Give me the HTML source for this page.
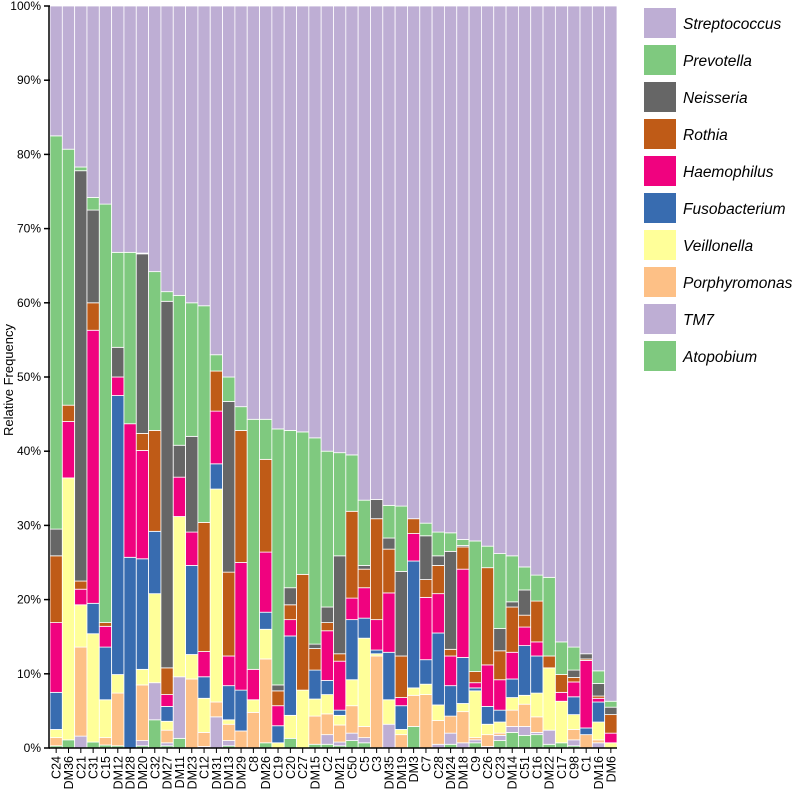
<!DOCTYPE html>
<html><head><meta charset="utf-8"><style>
body{margin:0;background:#fff;}
svg{font-family:"Liberation Sans",Arial,sans-serif;display:block}
</style></head><body>
<svg id="chart" width="800" height="791"></svg>
<script>
const categories=["C24","DM36","C21","C31","C15","DM12","DM28","DM20","C32","DM27","DM11","DM23","C12","DM31","DM13","DM29","C8","DM26","C19","C20","C27","DM15","C2","DM21","C50","C5","C3","DM35","DM19","DM3","C7","C28","DM24","DM18","C9","C26","C23","DM14","C51","C16","DM22","C17","C98","C1","DM16","DM6"];
const atopobium=[.3,1.1,0,.8,.4,.3,0,.3,3.8,.3,1.3,0,0,0,.3,0,0,.7,0,1.3,0,.5,.5,.3,1,.7,0,0,0,2.9,0,0,.5,0,.7,0,1,2.1,1.7,1.8,.5,.7,.3,0,0,0];
const tm7=[0,0,1.6,0,0,0,0,.7,5,.4,8.3,0,.2,4.2,.7,0,0,0,0,0,0,0,1.3,.5,1,.7,0,3.2,0,0,0,.5,1.5,.7,.4,.2,.7,.8,1.2,.3,1.9,0,.8,0,.7,0];
const porphyromonas=[1.1,0,12,0,1,7.1,0,7.5,0,1.7,0,9.3,1.9,2,2.2,2.3,4.8,11.3,0,0,0,3.8,2.8,2.3,3.7,1.5,12.4,0,1.8,4.2,7.2,3.2,2.3,4.2,.3,1.6,.3,2.2,3,2.1,0,0,1.4,1.8,.4,0];
const veillonella=[1.1,35.3,5.7,14.6,5.1,2.5,0,2.1,12,1.2,21.6,3.3,4.6,28.7,.6,0,1.7,4,.7,3.1,7.8,2.3,2.6,1.3,3.5,11.9,.3,3.3,.7,1,1.4,2.1,0,1.1,6.3,1.4,1.5,1.7,1.2,3.2,8.4,5.6,2,0,2.4,.7];
const fusobacterium=[5,0,0,4.1,7.1,37.6,25.7,14.9,8.4,2,0,12,2.9,3.4,4.6,5.5,0,2.3,2.3,10.7,0,3.9,1.9,.7,8.1,2.7,.5,6.4,3.2,17.1,3.3,9.7,4.1,6.2,.4,2.4,1.6,2.5,6.7,5,0,0,2.4,.9,2.7,0];
const haemophilus=[9.4,7.6,2.1,36.8,2.8,2.5,18,14.6,0,1.6,5.3,4.5,3.4,7.1,4,17.2,4.1,8.1,2.7,2.2,0,0,6.7,6.6,2.9,4.1,4.1,8,1.1,3.7,8.4,5.3,4,11.9,.7,5.6,4.1,3.6,2.5,1.9,0,1.2,2,9.1,.5,1.3];
const rothia=[9,2.2,1.1,3.7,.5,0,0,2.3,13.6,3.6,0,0,17.4,5.4,11.3,17.8,0,12.5,2,2,15.6,2.9,1.1,1,11.7,2.5,13.6,5.9,5.6,2,2.4,3.8,.9,3,1.5,13.1,3.9,6.1,1.6,5.5,1.6,2.4,.6,.2,.3,2.5];
const neisseria=[3.6,0,55.3,12.5,0,4,0,24.2,0,49.4,4.3,12.9,0,0,23,0,0,0,.8,2.3,0,.6,2.1,13.2,0,.5,2.6,1.5,11.4,0,5.9,1.3,13.2,.2,0,0,3,.7,3.4,0,0,0,1,.7,1.7,1];
const prevotella=[53,34.5,.5,1.7,56.4,12.8,23.1,.1,21.4,1.3,20.2,18,29.2,2.2,3.3,3.2,33.7,5.4,34.5,21.2,19.2,27.8,21,13.9,7.6,8.8,0,4.4,8.8,0,1.7,3.2,2.5,.8,17.6,2.9,10.1,6.2,3.1,3.5,10.6,4.4,3.1,0,1.7,.8];
const seriesNames=["Atopobium","TM7","Porphyromonas","Veillonella","Fusobacterium","Haemophilus","Rothia","Neisseria","Prevotella","Streptococcus"];
const seriesColors=["#7fc97f","#beaed4","#fdc086","#ffff99","#386cb0","#f0027f","#bf5b17","#666666","#7fc97f","#beaed4"];
const yTicks=[0,10,20,30,40,50,60,70,80,90,100];

const NS="http://www.w3.org/2000/svg";
const svg=document.getElementById('chart');
const X0=50,X1=617,Y0=748,Y1=6;
const bw=(X1-X0)/categories.length;
const xPos=i=>X0+i*bw;
const yPos=v=>Y0-(v/100)*(Y0-Y1);
function mk(t,a,p){const e=document.createElementNS(NS,t);for(const k in a)e.setAttribute(k,a[k]);(p||svg).appendChild(e);return e;}

const lower=[atopobium,tm7,porphyromonas,veillonella,fusobacterium,haemophilus,rothia,neisseria,prevotella];
const bars=mk('g',{});


categories.forEach((c,i)=>{
  let cum=0;
  const vals=lower.map(s=>s[i]);
  const rest=100-vals.reduce((a,b)=>a+b,0);
  vals.push(rest);
  vals.forEach((v,s)=>{
    if(v<=0)return;
    const r=mk('rect',{x:xPos(i),y:yPos(cum+v),width:bw,height:yPos(cum)-yPos(cum+v),fill:seriesColors[s],stroke:'#fff','stroke-width':0.8},bars);
    
    
    cum+=v;
  });
  const tk=mk('line',{x1:xPos(i)+bw/2,x2:xPos(i)+bw/2,y1:Y0,y2:Y0+5,stroke:'#000'});
  
  
  const tx=xPos(i)+bw/2+4.5;
  const t=mk('text',{x:tx,y:Y0+8,transform:`rotate(-90 ${tx} ${Y0+8})`,'text-anchor':'end','font-size':12.5,fill:'#000'});
  t.textContent=c;
  
  
});
const ax=mk('line',{x1:X0-1,x2:X0-1,y1:Y1,y2:Y0,stroke:'#000','stroke-width':1.5});


const xax=mk('line',{x1:X0-1,x2:X1,y1:Y0,y2:Y0,stroke:'#000','stroke-width':1.5});


yTicks.forEach(v=>{
  const l=mk('line',{x1:X0-6,x2:X0,y1:yPos(v),y2:yPos(v),stroke:'#000','stroke-width':1.5});
  
  
  const t=mk('text',{x:X0-9,y:yPos(v)+4,'text-anchor':'end','font-size':12,fill:'#000'});
  t.textContent=v+'%';
  
  
});
const yt=mk('text',{x:13,y:380,transform:'rotate(-90 13 380)','text-anchor':'middle','font-size':13,fill:'#000'});
yt.textContent='Relative Frequency';



const legendOrder=[9,8,7,6,5,4,3,2,1,0];
legendOrder.forEach((s,k)=>{
  const g=mk('g',{});
  
  
  mk('rect',{x:644,y:8+k*37,width:32,height:30,fill:seriesColors[s]},g);
  const t=mk('text',{x:683,y:29+k*37,'font-size':15.5,'font-style':'italic',fill:'#000'},g);
  t.textContent=seriesNames[s];
});
</script>
</body></html>
